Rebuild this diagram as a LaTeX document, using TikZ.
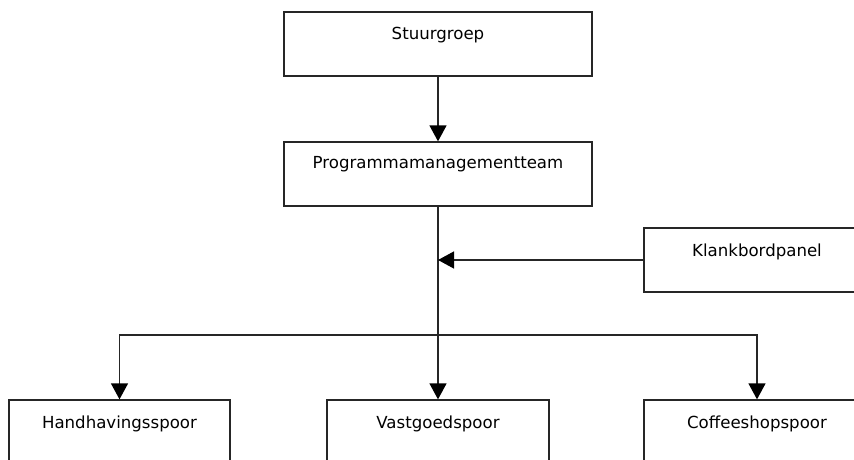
\documentclass[tikz,border=0pt]{standalone}
\usepackage{fontspec}
\setmainfont{DejaVu Sans}
\usetikzlibrary{arrows.meta}
\begin{document}
\begin{tikzpicture}[x=1pt,y=-1pt,
  box/.style={draw=black!85, line width=1.3pt, inner sep=0pt, minimum height=64pt,
    text height=28pt, text depth=36pt, font=\fontsize{16.6}{18}\selectfont, text=black},
  conn/.style={draw=black!85, line width=1.3pt},
  arr/.style={conn, -{Triangle[width=17pt,length=16pt,fill=black,color=black]}}]
\useasboundingbox (0,0) rectangle (854,460);
\node[box, minimum width=308pt] (sg) at (438,44) {Stuurgroep};
\node[box, minimum width=308pt, text height=26.5pt, text depth=37.5pt] (pmt) at (438,174) {Programmamanagementteam};
\node[box, minimum width=226pt] (kb) at (757,260) {Klankbordpanel};
\node[box, minimum width=221pt] (hh) at (119.5,432) {Handhavingsspoor};
\node[box, minimum width=222pt] (vg) at (438,432) {Vastgoedspoor};
\node[box, minimum width=226pt] (cs) at (757,432) {Coffeeshopspoor};
\coordinate (kbjoin) at (438,260);
\coordinate (split) at (438,335);
\draw[arr] (sg) -- (pmt);
\draw[arr] (pmt) -- (vg);
\draw[arr] (kb.west) -- (kbjoin);
\draw[arr] (split) -| (hh.north);
\draw[arr] (split) -| (cs.north);
\end{tikzpicture}
\end{document}
